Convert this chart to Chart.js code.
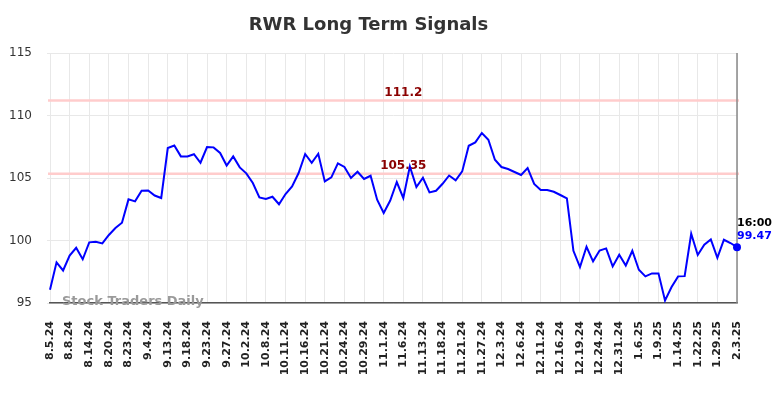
<!DOCTYPE html>
<html>
<head>
<meta charset="utf-8">
<title>RWR Long Term Signals</title>
<script src="https://cdn.jsdelivr.net/npm/chart.js@4.4.1/dist/chart.umd.min.js"></script>
<style>
  html, body { margin: 0; padding: 0; background: #ffffff; }
  #chart { display: block; }
</style>
</head>
<body>
<canvas id="chart" width="784" height="398"></canvas>
<script>
// Tick dates (every 3rd trading session is labelled)
const tickDates = [
    '8.5.24', '8.8.24', '8.14.24', '8.20.24', '8.23.24', '9.4.24', '9.13.24', '9.18.24',
    '9.23.24', '9.27.24', '10.2.24', '10.8.24', '10.11.24', '10.16.24', '10.21.24', '10.24.24',
    '10.29.24', '11.1.24', '11.6.24', '11.13.24', '11.18.24', '11.21.24', '11.27.24', '12.3.24',
    '12.6.24', '12.11.24', '12.16.24', '12.19.24', '12.24.24', '12.31.24', '1.6.25', '1.9.25',
    '1.14.25', '1.22.25', '1.29.25', '2.3.25'
];

// Closing prices
const prices = [
    96.06, 98.25, 97.6, 98.8, 99.42, 98.5, 99.85, 99.9, 99.77, 100.44,
    101.0, 101.42, 103.29, 103.13, 103.98, 104.0, 103.6, 103.4, 107.4, 107.6,
    106.73, 106.73, 106.9, 106.22, 107.48, 107.45, 107.0, 106.0, 106.73, 105.85,
    105.37, 104.6, 103.45, 103.32, 103.5, 102.9, 103.72, 104.33, 105.4, 106.92,
    106.22, 106.94, 104.73, 105.05, 106.17, 105.88, 105.0, 105.5, 104.92, 105.18,
    103.26, 102.2, 103.2, 104.68, 103.4, 105.93, 104.28, 105.02, 103.85, 103.98,
    104.54, 105.2, 104.82, 105.53, 107.58, 107.85, 108.6, 108.06, 106.46, 105.88,
    105.72, 105.48, 105.24, 105.8, 104.52, 104.04, 104.04, 103.9, 103.64, 103.37,
    99.18, 97.88, 99.5, 98.33, 99.2, 99.37, 97.93, 98.86, 98.0, 99.18,
    97.66, 97.13, 97.37, 97.37, 95.2, 96.28, 97.13, 97.15, 100.54, 98.84,
    99.66, 100.09, 98.62, 100.06, 99.8, 99.47
];

// Signal levels
const signalLevels = [111.2, 105.35];

const yMin = 95;
const yMax = 115;
const yStep = 5;
const lastTime = '16:00';
const TICK_EVERY = 3;

const labels = prices.map((p, i) => (i % TICK_EVERY === 0 ? tickDates[i / TICK_EVERY] : ''));
const lastIndex = prices.length - 1;

// Signal lines, watermark, right border and last price label
const overlayPlugin = {
    id: 'overlay',
    beforeDatasetsDraw(chart) {
        const { ctx, chartArea, scales } = chart;
        ctx.save();

        // watermark
        ctx.font = "bold 13px 'DejaVu Sans', sans-serif";
        ctx.fillStyle = '#9a9a9a';
        ctx.textAlign = 'left';
        ctx.textBaseline = 'middle';
        ctx.fillText('Stock Traders Daily', chartArea.left + 12, chartArea.bottom - 1);

        // signal lines
        const labelX = scales.x.getPixelForValue(54);
        signalLevels.forEach(level => {
            const y = scales.y.getPixelForValue(level);
            ctx.strokeStyle = '#ffcccc';
            ctx.lineWidth = 2.5;
            ctx.beginPath();
            ctx.moveTo(chartArea.left - 2, y);
            ctx.lineTo(chartArea.right + 2, y);
            ctx.stroke();

            ctx.font = "bold 12px 'DejaVu Sans', sans-serif";
            ctx.fillStyle = '#8b0000';
            ctx.textAlign = 'center';
            ctx.textBaseline = 'middle';
            ctx.fillText(String(level), labelX, y - 7.5);
        });

        // right border
        ctx.strokeStyle = '#888888';
        ctx.lineWidth = 1.5;
        ctx.beginPath();
        ctx.moveTo(chartArea.right, chartArea.top);
        ctx.lineTo(chartArea.right, chartArea.bottom);
        ctx.stroke();
        ctx.restore();
    },
    afterDatasetsDraw(chart) {
        const { ctx } = chart;
        const pt = chart.getDatasetMeta(0).data[lastIndex];
        ctx.save();
        ctx.font = "bold 11px 'DejaVu Sans', sans-serif";
        ctx.textAlign = 'left';
        ctx.textBaseline = 'middle';
        ctx.fillStyle = '#000000';
        ctx.fillText(lastTime, pt.x, pt.y - 24);
        ctx.fillStyle = '#0000ff';
        ctx.fillText(prices[lastIndex].toFixed(2), pt.x, pt.y - 10.5);
        ctx.restore();
    }
};

new Chart(document.getElementById('chart'), {
    type: 'line',
    data: {
        labels: labels,
        datasets: [{
            data: prices,
            borderColor: '#0000ff',
            backgroundColor: '#0000ff',
            borderWidth: 2,
            tension: 0,
            pointRadius: ctx => (ctx.dataIndex === lastIndex ? 4 : 0),
            pointHoverRadius: 0,
            pointBorderWidth: 0,
            fill: false
        }]
    },
    options: {
        responsive: false,
        animation: false,
        devicePixelRatio: 1,
        layout: { padding: { left: 0, right: 47, top: 0, bottom: 0 } },
        plugins: {
            legend: { display: false },
            tooltip: { enabled: false },
            title: {
                display: true,
                text: 'RWR Long Term Signals',
                color: '#333333',
                font: { family: "'DejaVu Sans', sans-serif", size: 18, weight: 'bold' },
                padding: { top: 15, bottom: 16.4 }
            }
        },
        scales: {
            x: {
                offset: false,
                afterFit: scale => { scale.height = 95; },
                grid: {
                    color: ctx => (ctx.index % TICK_EVERY === 0 ? '#e8e8e8' : 'rgba(0,0,0,0)'),
                    drawTicks: false
                },
                border: { display: true, color: '#555555', width: 1.5 },
                ticks: {
                    autoSkip: false,
                    minRotation: 90,
                    maxRotation: 90,
                    padding: 18,
                    color: '#222222',
                    font: { family: "'DejaVu Sans', sans-serif", size: 11, weight: 'bold' }
                }
            },
            y: {
                min: yMin,
                max: yMax,
                afterFit: scale => { scale.width = 50; },
                grid: { color: '#e8e8e8', tickLength: 3 },
                border: { display: false },
                ticks: {
                    stepSize: yStep,
                    padding: 15,
                    color: '#333333',
                    font: { family: "'DejaVu Sans', sans-serif", size: 12 }
                }
            }
        }
    },
    plugins: [overlayPlugin]
});
</script>
</body>
</html>
